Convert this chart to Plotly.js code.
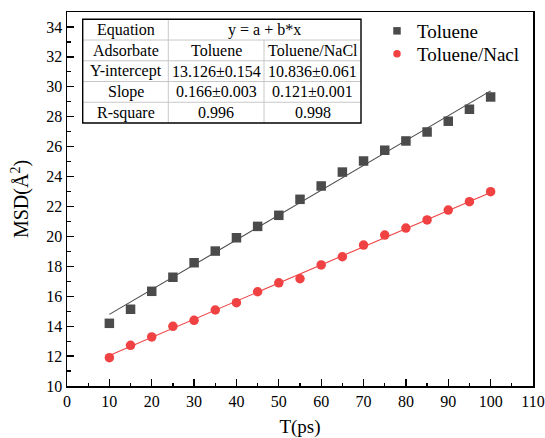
<!DOCTYPE html>
<html>
<head>
<meta charset="utf-8">
<script src="https://cdn.plot.ly/plotly-3.0.1.min.js"></script>
<style>html,body{margin:0;padding:0;background:#fff;}#chart{width:545px;height:438px;}</style>
</head>
<body>
<div id="chart"></div>
<script>
// ---- data ----
const time = [10,15,20,25,30,35,40,45,50,55,60,65,70,75,80,85,90,95,100];
const toluene = [14.19,15.13,16.33,17.27,18.24,19.02,19.91,20.67,21.41,22.48,23.37,24.3,25.04,25.76,26.38,26.98,27.7,28.5,29.32];
const tolueneNaCl = [11.89,12.72,13.28,13.99,14.39,15.08,15.57,16.3,16.9,17.17,18.09,18.64,19.42,20.09,20.56,21.1,21.76,22.32,22.99];
const seriesNames = ['Toluene','Toluene/Nacl'];
const fitIntercept = [13.126, 10.836];
const fitSlope = [0.166, 0.121];
const fitRange = [10, 100];
const tableRows = [
  ['Equation','y = a + b*x',''],
  ['Adsorbate','Toluene','Toluene/NaCl'],
  ['Y-intercept','13.126\u00b10.154','10.836\u00b10.061'],
  ['Slope','0.166\u00b10.003','0.121\u00b10.001'],
  ['R-square','0.996','0.998']
];

// ---- layout geometry (px) ----
const W=545,H=438, L=67, R=533, T=12, B=386;
const px2x = p => (p-L)/(R-L);
const py2y = p => (B-p)/(B-T);
const serif = 'Liberation Serif, Times New Roman, serif';
const colors = ['#4b4b4b','#f04242'];

const fitX = fitRange;
const traces = [];
const data = [toluene, tolueneNaCl];
const symbols = ['square','circle'];
const legendIds = ['legend','legend2'];
for (let i=0;i<2;i++){
  traces.push({x:fitX, y:fitX.map(v=>fitIntercept[i]+fitSlope[i]*v), mode:'lines',
    line:{color:colors[i], width:1.1}, showlegend:false, hoverinfo:'skip'});
  traces.push({x:time, y:data[i], mode:'markers', name:seriesNames[i], showlegend:false,
    marker:{symbol:symbols[i], size:9.5, color:colors[i]}});
}
for (let i=0;i<2;i++){
  traces.push({x:[null], y:[null], mode:'markers', name:seriesNames[i], legend:legendIds[i],
    marker:{symbol:symbols[i], size:7.5, color:colors[i]}});
}

// table
const tL=82.7, tR=361, tT=19.3, tB=123, cols=[tL,168.3,264,tR];
const nRows = tableRows.length;
const rh = (tB-tT)/nRows;
const shapes=[], annotations=[];
for (let r=1;r<nRows;r++){
  const y=tT+r*rh;
  shapes.push({type:'line', xref:'paper', yref:'paper', x0:px2x(tL), x1:px2x(tR), y0:py2y(y), y1:py2y(y), line:{color:'#c8c8c8', width:1}});
}
shapes.push({type:'line', xref:'paper', yref:'paper', x0:px2x(cols[1]), x1:px2x(cols[1]), y0:py2y(tT), y1:py2y(tB), line:{color:'#c8c8c8', width:1}});
shapes.push({type:'line', xref:'paper', yref:'paper', x0:px2x(cols[2]), x1:px2x(cols[2]), y0:py2y(tT+rh), y1:py2y(tB), line:{color:'#c8c8c8', width:1}});
shapes.push({type:'rect', xref:'paper', yref:'paper', x0:px2x(tL), x1:px2x(tR), y0:py2y(tT), y1:py2y(tB), line:{color:'#000', width:1.4}});
for (let r=0;r<nRows;r++){
  const yc = tT+(r+0.5)*rh;
  for (let c=0;c<3;c++){
    const txt = tableRows[r][c];
    if (!txt) continue;
    let xc = (cols[c]+cols[c+1])/2;
    if (r===0 && c===1) xc = (cols[1]+cols[3])/2;
    annotations.push({xref:'paper', yref:'paper', x:px2x(xc), y:py2y(yc), text:txt, showarrow:false,
      xanchor:'center', yanchor:'middle', font:{family:serif, size:16, color:'#000'}});
  }
}

const legendBase = {x:px2x(377), xanchor:'left', yanchor:'top', bgcolor:'rgba(0,0,0,0)',
    font:{family:serif, size:19, color:'#000'}, itemwidth:30};
const layout = {
  width:W, height:H, margin:{l:L, r:W-R, t:T, b:H-B},
  paper_bgcolor:'#fff', plot_bgcolor:'#fff',
  font:{family:serif, color:'#000'},
  xaxis:{range:[0,110], dtick:10, tick0:0, ticks:'inside', ticklen:7, tickwidth:1.3, tickcolor:'#000',
    showline:true, linecolor:'#000', linewidth:1.5, mirror:true, showgrid:false, zeroline:false,
    tickfont:{family:serif, size:16, color:'#000'}, ticklabeloverflow:'allow',
    minor:{dtick:5, ticks:'inside', ticklen:3.5, tickwidth:1.2, tickcolor:'#000', showgrid:false},
    title:{text:'T(ps)', font:{family:serif, size:19, color:'#000'}, standoff:19}},
  yaxis:{range:[10,35], dtick:2, tick0:10, ticks:'inside', ticklen:7, tickwidth:1.3, tickcolor:'#000',
    showline:true, linecolor:'#000', linewidth:1.5, mirror:true, showgrid:false, zeroline:false,
    tickfont:{family:serif, size:16, color:'#000'}, ticklabeloverflow:'allow',
    minor:{dtick:1, ticks:'inside', ticklen:3.5, tickwidth:1.2, tickcolor:'#000', showgrid:false},
    title:{text:'MSD(Å<sup>2</sup>)', font:{family:serif, size:20, color:'#000'}, standoff:12}},
  legend:Object.assign({}, legendBase, {y:py2y(12)}),
  legend2:Object.assign({}, legendBase, {y:py2y(35)}),
  shapes:shapes, annotations:annotations
};
Plotly.newPlot('chart', traces, layout, {staticPlot:true, displayModeBar:false});
</script>
</body>
</html>
